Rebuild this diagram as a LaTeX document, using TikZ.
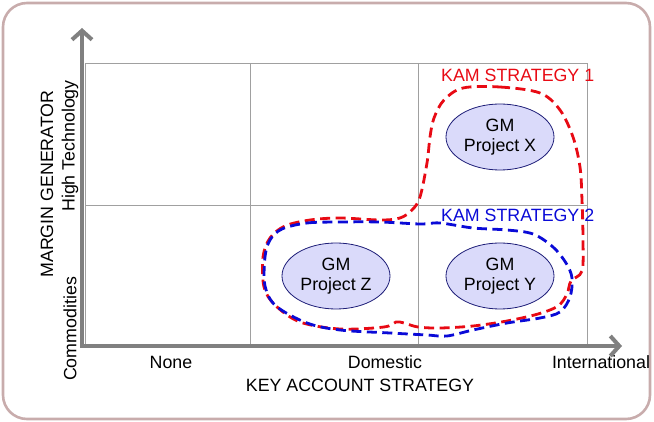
\documentclass[tikz,border=0pt]{standalone}
\usepackage{fontspec}
\setmainfont{Liberation Sans}
\usetikzlibrary{arrows.meta,shapes.geometric}
\definecolor{frame}{RGB}{200,172,172}
\definecolor{axisgray}{RGB}{128,128,128}
\definecolor{gridgray}{RGB}{160,160,160}
\definecolor{kamred}{RGB}{232,10,20}
\definecolor{kamblue}{RGB}{10,10,215}
\definecolor{ellfill}{RGB}{218,218,250}
\definecolor{elldraw}{RGB}{30,30,120}
\tikzset{
  txt/.style={font=\fontsize{17.8}{20}\selectfont, inner sep=0pt},
  axisline/.style={draw=axisgray, line width=4pt, -{Straight Barb[length=9pt,width=20pt]}},
  gridline/.style={draw=gridgray, line width=0.9pt},
  proj/.style={ellipse, draw=elldraw, fill=ellfill, line width=0.8pt, minimum width=108pt, minimum height=66pt, inner sep=0pt, align=center, font=\fontsize{17.8}{20.5}\selectfont},
  kamloop/.style={line width=2.8pt, dash pattern=on 10pt off 5.5pt},
}
\begin{document}
\begin{tikzpicture}[x=1pt,y=-1pt]
\useasboundingbox (0,0) rectangle (654,422);
% frame
\draw[frame, line width=2.6pt, rounded corners=24pt] (3,3) rectangle (650,419);
% grid
\draw[gridline] (85,63) rectangle (587,346);
\draw[gridline] (250,63) -- (250,346);
\draw[gridline] (418,63) -- (418,346);
\draw[gridline] (85,205) -- (587,205);
% axes
\coordinate (o) at (82,346);
\coordinate (ytip) at (82,28);
\coordinate (xtip) at (622,346);
\draw[axisline] ([yshift=2pt]o) -- (ytip);
\draw[axisline] ([xshift=-2pt]o) -- (xtip);
% axis labels
\node[txt] (none) at (171,362) {None};
\node[txt] (dom) at (385,362) {Domestic};
\node[txt] (intl) at (601,362) {International};
\node[txt] (xlab) at (360,385) {KEY ACCOUNT STRATEGY};
\node[txt, rotate=90] (ylab) at (47,184) {MARGIN GENERATOR};
\node[txt, rotate=90] (high) at (70,146) {High Technology};
\node[txt, rotate=90] (comm) at (70,329) {Commodities};
% red loop
\draw[kamloop, kamred] plot[smooth cycle, tension=0.55] coordinates {
(463,88) (500,87) (540,93) (560,110) (573,137) (580,167) (582,200) (583,240) (582,271)
(571,281) (567,294) (558,306) (538,314) (507,321) (473,326) (440,328) (418,327)
(404,323) (396,322) (384,327) (340,329) (300,322) (275,305) (264,287) (263,257)
(270,238) (285,226) (310,220) (340,218) (380,220) (400,218) (412,210) (420,197)
(427,163) (430,137) (434,118) (444,100)};
% blue loop
\draw[kamloop, kamblue] plot[smooth cycle, tension=0.55] coordinates {
(282,229) (307,223) (340,222) (380,222) (420,224) (440,223) (473,228) (507,230)
(533,234) (553,247) (566,263) (572,278) (570,297) (560,312) (540,318) (507,323)
(473,330) (447,336) (427,335) (390,333) (340,330) (307,323) (276,306) (265,286)
(265,257) (270,240)};
% labels of strategies
\node[txt, text=kamred, anchor=west] (kam1) at (441,75) {KAM STRATEGY 1};
\node[txt, text=kamblue, anchor=west] (kam2) at (441,215) {KAM STRATEGY 2};
% projects
\node[proj] (px) at (500,137) {GM\\Project X};
\node[proj] (pz) at (336,276) {GM\\Project Z};
\node[proj] (py) at (500,276) {GM\\Project Y};
\end{tikzpicture}
\end{document}
